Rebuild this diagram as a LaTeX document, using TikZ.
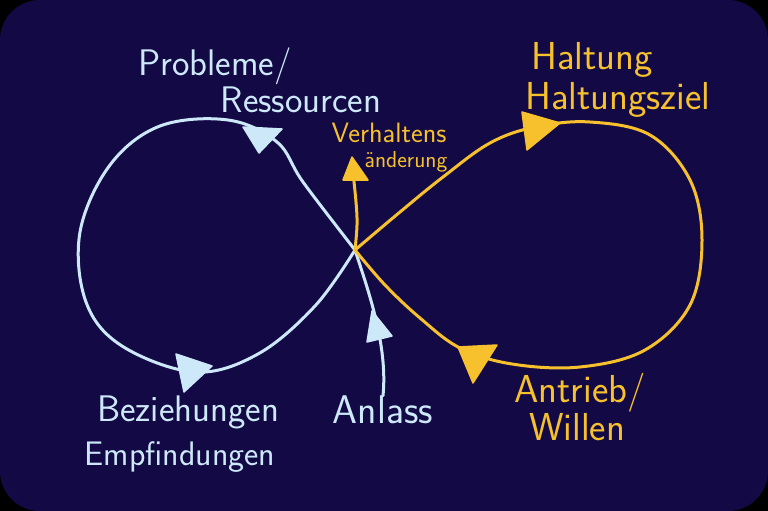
\documentclass[tikz,border=0pt]{standalone}
\usepackage{fontspec}
\usetikzlibrary{positioning}
\definecolor{navy}{RGB}{19,9,68}
\definecolor{lblue}{RGB}{205,232,248}
\definecolor{gold}{RGB}{247,193,45}
\tikzstyle{bluet} = [text=lblue, inner sep=0pt, font=\sffamily\fontsize{37}{39}\selectfont]
\tikzstyle{goldt} = [text=gold, inner sep=0pt, font=\sffamily\fontsize{39}{41}\selectfont]
\tikzstyle{smally} = [text=gold, inner sep=0pt, font=\sffamily\fontsize{23}{25}\selectfont]
\tikzstyle{loopb} = [draw=lblue, line width=3pt, line cap=round, line join=round]
\tikzstyle{loopy} = [draw=gold, line width=3pt, line cap=round, line join=round]
\tikzstyle{tipb} = [fill=lblue, draw=lblue, line width=1.5pt, line join=round]
\tikzstyle{tipy} = [fill=gold, draw=gold, line width=1.5pt, line join=round]

\begin{document}
\begin{tikzpicture}[x=1pt, y=-1pt]
  \useasboundingbox (0,0) rectangle (768,511);
  \fill[black] (0,0) rectangle (768,511);
  \fill[navy, rounded corners=40pt] (0,0) rectangle (768,511);

  \coordinate (X) at (355,250);
  \coordinate (VTIP) at (353,172);

  \node (PROB) [bluet] at (215,66) {Probleme/};
  \node (RESS) [bluet, below of=PROB, node distance=34pt, xshift=86pt] {Ressourcen};
  \node (VERH) [smally, font=\sffamily\fontsize{28}{30}\selectfont] at (389,133) {Verhaltens};
  \node (AEND) [smally, below of=VERH, node distance=29pt, xshift=17pt] {änderung};
  \node (HALT) [goldt] at (592,60) {Haltung};
  \node (HALZ) [goldt, below of=HALT, node distance=40pt, xshift=26pt] {Haltungsziel};
  \node (ANTR) [goldt] at (580,393) {Antrieb/};
  \node (WILL) [goldt, below of=ANTR, node distance=34pt, xshift=-3pt] {Willen};
  \node (ANL) [bluet, font=\sffamily\fontsize{40}{42}\selectfont] at (383,410) {Anlass};
  \node (BEZ) [bluet] at (188,412) {Beziehungen};
  \node (EMP) [bluet, below of=BEZ, node distance=45pt, xshift=-8pt, font=\sffamily\fontsize{34}{36}\selectfont] {Empfindungen};

  % left loop
  \draw[loopb] plot[smooth, tension=0.6] coordinates {(355,250) (303,182) (277,142) (228,120) (160,126) (110,165) (80,232) (86,302) (122,346) (195,372) (258,354) (315,306) (355,250)};
  \draw[loopb] (ANL.north) .. controls (388,345) and (368,290) .. (X);
  \filldraw[tipb] (243,127) -- (282,129) -- (259,153) -- cycle;
  \filldraw[tipb] (176,354) -- (212,366) -- (184,392) -- cycle;
  \filldraw[tipb] (372,311) -- (392,336) -- (367,342) -- cycle;

  % right loop
  \draw[loopy] plot[smooth, tension=0.6] coordinates {(355,250) (400,212) (443,177) (490,143) (535,127) (590,122) (650,135) (690,180) (702,240) (690,305) (645,350) (580,367) (512,364) (460,348) (420,318) (385,285) (355,250)};
  \draw[loopy] (X) .. controls (358,220) .. (VTIP);
  \filldraw[tipy] (522,112) -- (560,123) -- (527,150) -- cycle;
  \filldraw[tipy] (458,347) -- (497,345) -- (473,383) -- cycle;
  \filldraw[tipy] (343,180) -- (352,157) -- (368,180) -- cycle;
\end{tikzpicture}
\end{document}
